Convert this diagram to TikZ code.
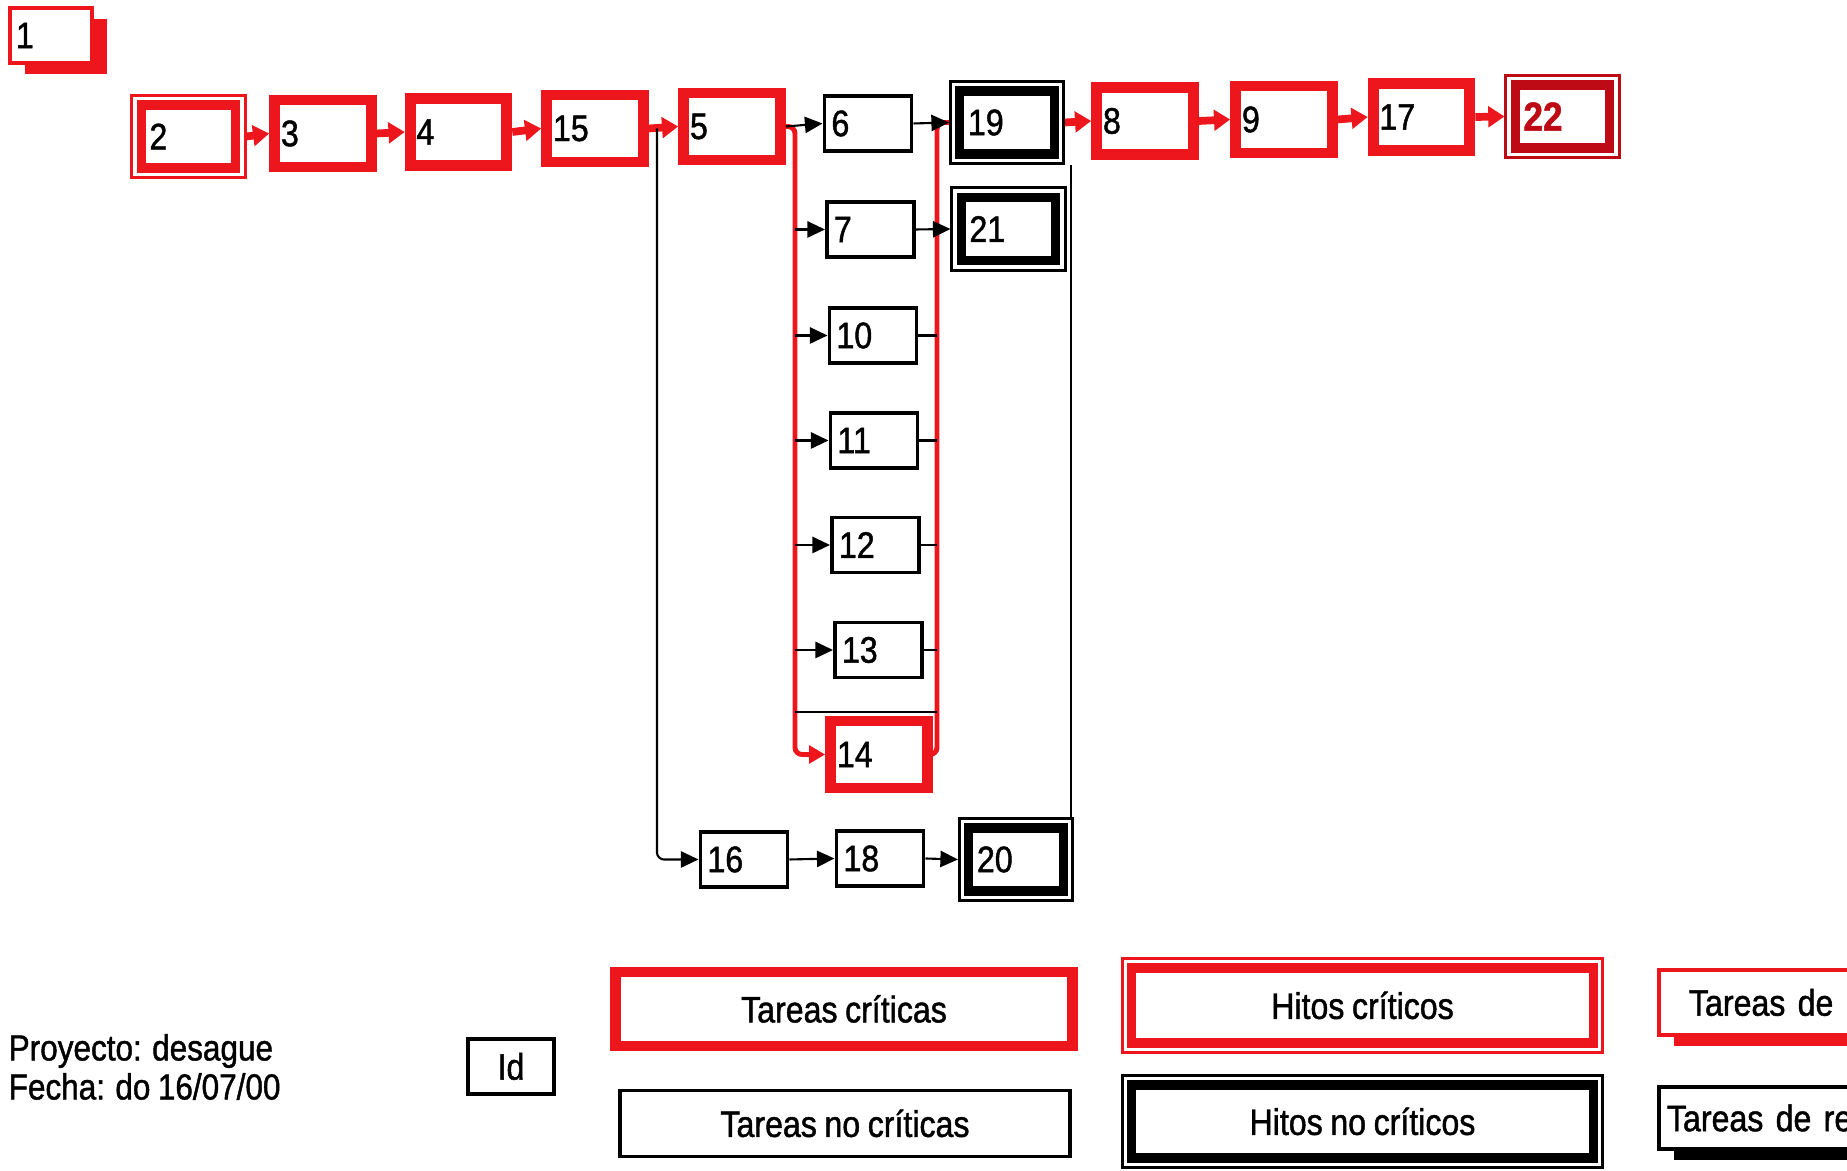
\documentclass[tikz,border=0pt]{standalone}
\usepackage{fontspec}
\setmainfont{Liberation Sans}[FakeStretch=0.87,FakeBold=1.2,WordSpace=0.85]
\usetikzlibrary{arrows.meta,shadows}

\definecolor{critred}{RGB}{236,22,28}
\definecolor{hitored}{RGB}{190,10,20}

\tikzset{
  tarea/.style={draw=black, line width=1.1pt, fill=white},
  tareacrit/.style={draw=critred, line width=3.1pt, fill=white},
  hito/.style={draw=#1, line width=2.6pt, fill=white, outer sep=3.1pt,
    preaction={draw=#1, line width=6.26pt},
    preaction={draw=white, line width=4.55pt}},
  hito/.default=black,
  resumen/.style={draw=#1, line width=1.1pt, fill=white,
    drop shadow={shadow xshift=0.15cm, shadow yshift=-0.11cm, fill=#1, opacity=1}},
  nt/.style={tarea, minimum height=0.55cm, text width=0.73cm, inner xsep=2pt, align=left},
  ntc/.style={tareacrit, minimum height=0.67cm, text width=0.84cm, inner xsep=1.8pt, align=left},
  nh/.style={hito=#1, minimum height=0.63cm, text width=0.78cm, inner xsep=2.3pt, align=left},
  nh/.default=black,
  flecha/.style={draw=black, line width=0.6pt, -{Triangle[length=5pt,width=4.6pt]}},
  linea/.style={draw=black, line width=0.6pt},
  flechacrit/.style={draw=critred, line width=2.2pt, -{Triangle[length=4.6pt,width=5.8pt]}},
  lineacrit/.style={draw=critred, line width=1.4pt, rounded corners=2pt},
}

\begin{document}
\begin{tikzpicture}[x=0.01cm,y=-0.01cm,font=\fontsize{10.5}{12.6}\selectfont]
\useasboundingbox (0,0) rectangle (1847,1171);

% Summary task
\node[resumen=critred, minimum height=0.55cm, text width=0.7cm, inner xsep=0.06cm, align=left] (n1) at (51,35.5) {1};

% Top row
\node[nh=critred] (n2) at (188.5,136.5) {2};
\node[ntc] (n3) at (323,133.5) {3};
\node[ntc] (n4) at (458.5,132) {4};
\node[ntc] (n15) at (595,128.5) {15};
\node[ntc] (n5) at (732,126.5) {5};
\node[nt] (n6) at (868,123.5) {6};
\node[nh] (n19) at (1007,122.5) {19};
\node[ntc] (n8) at (1145,121) {8};
\node[ntc] (n9) at (1284,119.5) {9};
\node[ntc] (n17) at (1421.5,117) {17};
\node[nh=hitored, text=hitored, font=\fontsize{11.5}{13}\selectfont\bfseries] (n22) at (1562.5,116.5) {22};

% Column
\node[nt] (n7) at (870.5,229.5) {7};
\node[nh] (n21) at (1008.5,229) {21};
\node[nt] (n10) at (873,335.5) {10};
\node[nt] (n11) at (874,440.5) {11};
\node[nt] (n12) at (875.5,545) {12};
\node[nt] (n13) at (878.5,650) {13};
\node[ntc] (n14) at (879,754.5) {14};

% Bottom row
\node[nt] (n16) at (744,859.5) {16};
\node[nt] (n18) at (880,858.5) {18};
\node[nh] (n20) at (1016,859.5) {20};

% Links
\coordinate (colO) at (657,0);
\coordinate (colL) at (795,0);
\coordinate (colR) at (937,0);
\coordinate (colE) at (1071,0);
\coordinate (barra) at (0,712);

\foreach \a/\b in {n2/n3,n3/n4,n4/n15,n15/n5,n19/n8,n8/n9,n9/n17,n17/n22}
  \draw[flechacrit] (\a.east) -- (\b.west);

\draw[lineacrit, -{Triangle[length=4.6pt,width=5pt]}] (n5.east) -| (colL |- n14.west) -- (n14.west);
\draw[lineacrit] (n14.east) -| (colR |- n19.west) -- (n19.west);

\draw[flecha] (n5.east) -- (n6.west);
\draw[flecha] (n6.east) -- (n19.west);
\draw[flecha] (n7.east) -- (n21.west);
\foreach \n in {7,10,11,12,13}
  \draw[flecha] (colL |- n\n.west) -- (n\n.west);
\foreach \n in {10,11,12,13}
  \draw[linea] (n\n.east) -- (colR |- n\n.east);
\draw[linea] (colL |- barra) -- (colR |- barra);
\draw[flecha, rounded corners=2pt] (colO |- n15.east) |- (n16.west);
\draw[flecha] (n16.east) -- (n18.west);
\draw[flecha] (n18.east) -- (n20.west);
\draw[linea] (colE |- n19.south) -- (colE |- n20.north);

% Legend
\node[anchor=west, align=left, inner sep=0, font=\fontsize{10.3}{11.1}\selectfont] (info) at (8,1067) {Proyecto: desague\\Fecha: do 16/07/00};
\node[tarea, minimum width=0.86cm, minimum height=0.55cm] (id) at (511,1066.5) {Id};
\node[tareacrit, minimum width=4.56cm, minimum height=0.74cm] (leytc) at (844,1009) {Tareas críticas};
\node[tarea, minimum width=4.49cm, minimum height=0.66cm] (leyt) at (845,1123.5) {Tareas no críticas};
\node[hito=critred, minimum width=4.61cm, minimum height=0.75cm] (leyhc) at (1362.5,1005.5) {Hitos críticos};
\node[hito, minimum width=4.61cm, minimum height=0.73cm] (leyh) at (1362.5,1121.5) {Hitos no críticos};
\node[resumen=critred, anchor=west, minimum height=0.65cm, text width=4.3cm, inner xsep=0.3cm, align=left] (leyrc) at (1657,1002.5) {Tareas de};
\node[resumen=black, anchor=west, minimum height=0.62cm, text width=4.3cm, inner xsep=0.08cm, align=left] (leyr) at (1657,1118) {Tareas de re};

\end{tikzpicture}
\end{document}
